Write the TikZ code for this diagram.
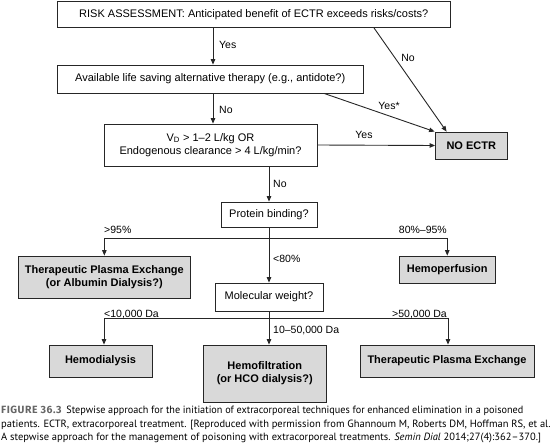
\documentclass[tikz,border=0pt]{standalone}
\usepackage{fontspec}
\setmainfont{Liberation Sans}
\newfontfamily\capfont{PT Sans}
\newfontfamily\figfont[LetterSpace=5]{Fira Sans}
\usetikzlibrary{arrows.meta,calc}
\begin{document}
\begin{tikzpicture}[x=1pt,y=-1pt,
  box/.style={draw=black!85,line width=0.8pt,inner sep=0pt,align=center,font=\fontsize{11}{13}\selectfont},
  gbox/.style={box,fill=black!15,font=\fontsize{11}{13}\selectfont\bfseries},
  arr/.style={draw=black!85,line width=0.9pt,-{Triangle[length=5.5pt,width=4.5pt]}},
  ln/.style={draw=black!85,line width=0.9pt},
  lbl/.style={inner sep=0pt,font=\fontsize{10.5}{12}\selectfont},
  captext/.style={inner sep=0pt,anchor=base west,font=\capfont\fontsize{10.5}{12}\selectfont}]
\useasboundingbox (0,0) rectangle (550,444);
\node[box,minimum width=392.5pt,minimum height=26.5pt] (risk) at (253.75,14.25) {RISK ASSESSMENT: Anticipated benefit of ECTR exceeds risks/costs?};
\node[box,minimum width=305.5pt,minimum height=28pt] (alt) at (210.25,79) {Available life saving alternative therapy (e.g., antidote?)};
\node[box,minimum width=213pt,minimum height=42pt] (vd) at (210.5,145) {V\textsubscript{D} > 1--2 L/kg OR\\Endogenous clearance > 4 L/kg/min?};
\node[gbox,minimum width=71.5pt,minimum height=27pt] (no) at (471.25,145.5) {NO ECTR};
\node[box,minimum width=96pt,minimum height=25pt] (pb) at (269,214.5) {Protein binding?};
\node[gbox,minimum width=171.3pt,minimum height=42pt] (tpe1) at (104.35,277) {Therapeutic Plasma Exchange\\(or Albumin Dialysis?)};
\node[gbox,minimum width=95.5pt,minimum height=27pt] (hp) at (447.25,269.5) {Hemoperfusion};
\node[box,minimum width=108pt,minimum height=28pt] (mw) at (269,297) {Molecular weight?};
\node[gbox,minimum width=103pt,minimum height=32pt] (hd) at (100.5,361) {Hemodialysis};
\node[gbox,minimum width=123.5pt,minimum height=57pt] (hf) at (264.75,373.5) {Hemofiltration\\(or HCO dialysis?)};
\node[gbox,minimum width=174pt,minimum height=32pt] (tpe2) at (447,361) {Therapeutic Plasma Exchange};
% connectors
\coordinate (c1) at (213,0);
\draw[arr] (c1 |- risk.south) -- (c1 |- alt.north);
\draw[arr] (c1 |- alt.south) -- (c1 |- vd.north);
\draw[arr] (374,0 |- risk.south) -- ($(no.north west)+(11.5,0)$);
\draw[arr] (324,0 |- alt.south) -- ($(no.north west)+(-0.5,0)$);
\draw[arr] (vd.east) -- (no.west);
\draw[arr] (pb.north |- vd.south) -- (pb.north);
\coordinate (b1) at (269,238);
\draw[ln] (b1 -| tpe1.north) -- (b1 -| hp.north);
\draw[arr] (b1 -| tpe1.north) -- (tpe1.north);
\draw[arr] (b1 -| hp.north) -- (hp.north);
\draw[arr] (pb.south) -- (mw.north);
\coordinate (b2) at (269,318);
\draw[ln] (104,0 |- b2) -- (448,0 |- b2);
\draw[arr] (104,0 |- b2) -- (104,0 |- hd.north);
\draw[arr] (448,0 |- b2) -- (448,0 |- tpe2.north);
\draw[arr] (mw.south) -- (269,0 |- hf.north);
% labels
\node[lbl,anchor=west] (l1) at (219,45) {Yes};
\node[lbl] (l2) at (408,58) {No};
\node[lbl,anchor=west] (l3) at (219,110) {No};
\node[lbl] (l4) at (389,106) {Yes*};
\node[lbl] (l5) at (364,135) {Yes};
\node[lbl,anchor=west] (l6) at (273,184) {No};
\node[lbl,anchor=west] (l7) at (104,230) {>95\%};
\node[lbl,anchor=east] (l8) at (447,230) {80\%--95\%};
\node[lbl,anchor=west] (l9) at (273,259) {<80\%};
\node[lbl,anchor=west] (l10) at (104,315) {<10,000 Da};
\node[lbl,anchor=east] (l11) at (447,315) {>50,000 Da};
\node[lbl,anchor=west] (l12) at (273,331) {10--50,000 Da};
% caption
\node[captext] (cap1) at (1,413.5) {{\color{black!60}\figfont\bfseries\fontsize{10.5}{12}\selectfont FIGURE 36.3}\hspace{0.45em}\scalebox{0.972}[1]{Stepwise approach for the initiation of extracorporeal techniques for enhanced elimination in a poisoned}};
\node[captext] (cap2) at (1,427) {patients. ECTR, extracorporeal treatment. [Reproduced with permission from Ghannoum M, Roberts DM, Hoffman RS, et al.};
\node[captext] (cap3) at (1,440.5) {A stepwise approach for the management of poisoning with extracorporeal treatments. \textit{Semin Dial} 2014;27(4):362–370.]};
\end{tikzpicture}
\end{document}
